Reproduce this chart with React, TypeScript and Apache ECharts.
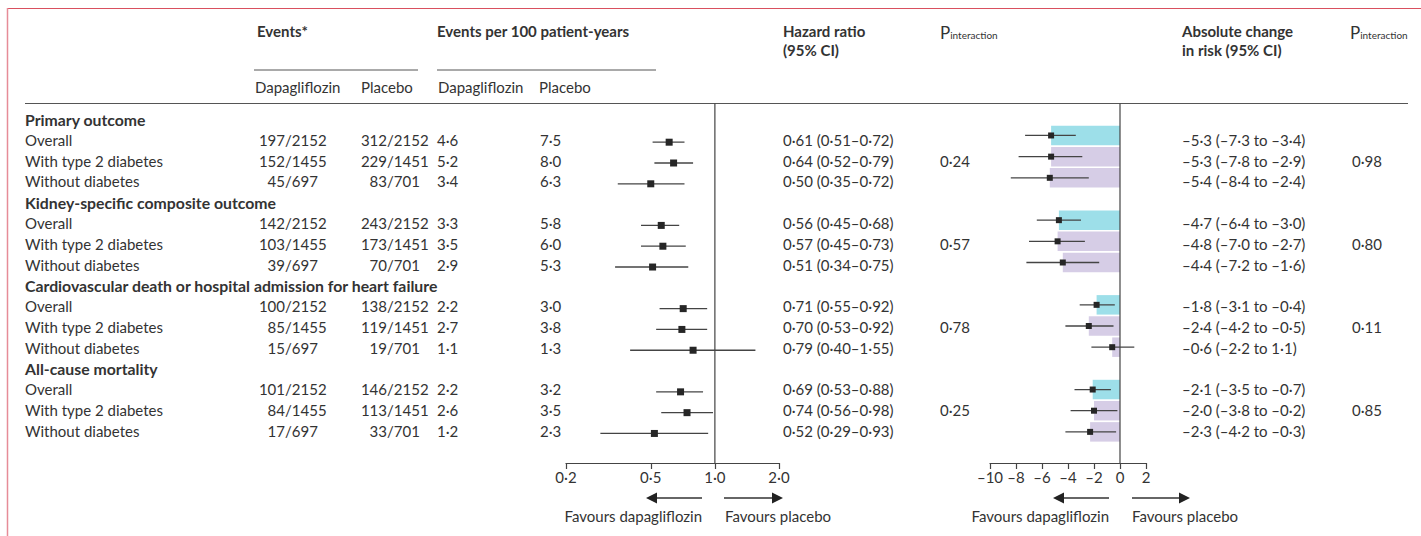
import React, { useEffect, useRef } from "react";
import * as echarts from "echarts";

// ---------- data ----------
const outcomes = [
  "Primary outcome",
  "Kidney-specific composite outcome",
  "Cardiovascular death or hospital admission for heart failure",
  "All-cause mortality",
];
const subgroups = ["Overall", "With type 2 diabetes", "Without diabetes"];
const eventsDapa = ["197/2152", "152/1455", "45/697", "142/2152", "103/1455", "39/697", "100/2152", "85/1455", "15/697", "101/2152", "84/1455", "17/697"];
const eventsPlacebo = ["312/2152", "229/1451", "83/701", "243/2152", "173/1451", "70/701", "138/2152", "119/1451", "19/701", "146/2152", "113/1451", "33/701"];
const ratesDapa = [4.6, 5.2, 3.4, 3.3, 3.5, 2.9, 2.2, 2.7, 1.1, 2.2, 2.6, 1.2];
const ratesPlacebo = [7.5, 8.0, 6.3, 5.8, 6.0, 5.3, 3.0, 3.8, 1.3, 3.2, 3.5, 2.3];
const hr = [0.61, 0.64, 0.5, 0.56, 0.57, 0.51, 0.71, 0.7, 0.79, 0.69, 0.74, 0.52];
const hrLow = [0.51, 0.52, 0.35, 0.45, 0.45, 0.34, 0.55, 0.53, 0.4, 0.53, 0.56, 0.29];
const hrHigh = [0.72, 0.79, 0.72, 0.68, 0.73, 0.75, 0.92, 0.92, 1.55, 0.88, 0.98, 0.93];
const pHr = ["0·24", "0·57", "0·78", "0·25"];
const arr = [-5.3, -5.3, -5.4, -4.7, -4.8, -4.4, -1.8, -2.4, -0.6, -2.1, -2.0, -2.3];
const arrLow = [-7.3, -7.8, -8.4, -6.4, -7.0, -7.2, -3.1, -4.2, -2.2, -3.5, -3.8, -4.2];
const arrHigh = [-3.4, -2.9, -2.4, -3.0, -2.7, -1.6, -0.4, -0.5, 1.1, -0.7, -0.2, -0.3];
const pArr = ["0·98", "0·80", "0·11", "0·85"];
const hrTicks = [0.2, 0.5, 1.0, 2.0];
const arrMin = -10;
const arrMax = 2;
const arrInterval = 2;

// ---------- style ----------
const FONT = "Lato";
const TXT = "#333333";
const FS = 15;
const CYAN = "#9ddfe9";
const LILAC = "#d6cde6";

const dec = (v: number, d: number) => v.toFixed(d).replace(".", "·");
const sgn = (v: number, d: number) => (v < 0 ? "–" : "") + dec(Math.abs(v), d);

const rowOf = (i: number) => Math.floor(i / 3) * 4 + 1 + (i % 3);
const textY = (k: number) => 119 + k * 20.8;

function txt(x: number, y: number, text: string, opts: any = {}) {
  return {
    type: "text",
    x,
    y,
    silent: true,
    style: {
      text,
      fontFamily: FONT,
      fontSize: opts.fontSize || FS,
      fontWeight: opts.bold ? 700 : 400,
      fill: TXT,
      align: opts.align || "left",
      verticalAlign: "middle",
      textAlign: opts.align || "left",
      textVerticalAlign: "middle",
    },
  };
}

function pInteraction(x: number, y: number) {
  return {
    type: "text",
    x,
    y,
    silent: true,
    style: {
      text: "{p|P}{s|interaction}",
      align: "left",
      verticalAlign: "middle",
      rich: {
        p: { fontFamily: FONT, fontSize: 17, fill: TXT, verticalAlign: "bottom" },
        s: { fontFamily: FONT, fontSize: 10, fill: TXT, verticalAlign: "bottom", padding: [0, 0, 1, 0] },
      },
    },
  };
}

function hline(x1: number, x2: number, y: number, color = "#555", w = 1) {
  return { type: "line", silent: true, shape: { x1, y1: y, x2, y2: y }, style: { stroke: color, lineWidth: w } };
}

function arrow(xFrom: number, xTip: number, y: number) {
  const dir = xTip > xFrom ? 1 : -1;
  const headLen = 11;
  return [
    { type: "line", silent: true, shape: { x1: xFrom, y1: y, x2: xTip - dir * headLen, y2: y }, style: { stroke: "#333", lineWidth: 1.3 } },
    {
      type: "polygon",
      silent: true,
      shape: { points: [[xTip, y], [xTip - dir * headLen, y - 5.5], [xTip - dir * headLen, y + 5.5]] },
      style: { fill: "#222" },
    },
  ];
}

function buildOption() {
  const g: any[] = [];
  // frame
  g.push(hline(8, 1421, 8.5, "#d9505f", 1));
  g.push({ type: "line", silent: true, shape: { x1: 7.5, y1: 8, x2: 7.5, y2: 536 }, style: { stroke: "#e68c98", lineWidth: 1.5 } });

  // headers
  g.push(txt(257, 31, "Events*", { bold: true }));
  g.push(txt(437, 31, "Events per 100 patient-years", { bold: true }));
  g.push(txt(783, 31, "Hazard ratio", { bold: true }));
  g.push(txt(783, 50, "(95% CI)", { bold: true }));
  g.push(pInteraction(940, 32));
  g.push(txt(1182, 31, "Absolute change", { bold: true }));
  g.push(txt(1182, 50, "in risk (95% CI)", { bold: true }));
  g.push(pInteraction(1350, 32));
  g.push(hline(254, 418, 70));
  g.push(hline(437, 656, 70));
  g.push(txt(255, 87, "Dapagliflozin"));
  g.push(txt(361, 87, "Placebo"));
  g.push(txt(438, 87, "Dapagliflozin"));
  g.push(txt(539, 87, "Placebo"));
  g.push(hline(25, 1408, 103.5, "#555", 1.2));

  // table body
  outcomes.forEach((o, gi) => {
    g.push(txt(25, textY(gi * 4), o, { bold: true, fontSize: 15.8 }));
    g.push(txt(940, textY(gi * 4 + 2), pHr[gi]));
    g.push(txt(1352, textY(gi * 4 + 2), pArr[gi]));
  });
  for (let i = 0; i < 12; i++) {
    const y = textY(rowOf(i));
    g.push(txt(25, y, subgroups[i % 3]));
    const [dn, dd] = eventsDapa[i].split("/");
    g.push(txt(285, y, dn, { align: "right" }));
    g.push(txt(285, y, "/" + dd));
    const [pn, pd] = eventsPlacebo[i].split("/");
    g.push(txt(387, y, pn, { align: "right" }));
    g.push(txt(387, y, "/" + pd));
    g.push(txt(437, y, dec(ratesDapa[i], 1)));
    g.push(txt(540, y, dec(ratesPlacebo[i], 1)));
    g.push(txt(783, y, `${dec(hr[i], 2)} (${dec(hrLow[i], 2)}–${dec(hrHigh[i], 2)})`));
    g.push(txt(1182, y, `${sgn(arr[i], 1)} (${sgn(arrLow[i], 1)} to ${sgn(arrHigh[i], 1)})`));
  }

  // arrows + favours labels
  g.push(...arrow(702, 646, 498));
  g.push(...arrow(724, 783, 498));
  g.push(txt(702, 516, "Favours dapagliflozin", { align: "right" }));
  g.push(txt(725, 516, "Favours placebo"));
  g.push(...arrow(1109, 1053, 498));
  g.push(...arrow(1132, 1190, 498));
  g.push(txt(1109, 516, "Favours dapagliflozin", { align: "right" }));
  g.push(txt(1132, 516, "Favours placebo"));

  const y1Min = -0.86, y1Max = 16.42;
  const y2Min = -0.51, y2Max = 16.47;

  const hrData = hr.map((v, i) => [Math.log(v), Math.log(hrLow[i]), Math.log(hrHigh[i]), rowOf(i)]);
  const arrData = arr.map((v, i) => [v, arrLow[i], arrHigh[i], rowOf(i), i % 3 === 0 ? 1 : 0]);

  const axisLabel = { color: TXT, fontFamily: FONT, fontSize: FS, margin: 6 };
  const axisLine = { show: true, onZero: false, lineStyle: { color: "#444", width: 1.2 } };
  const axisTick = { show: true, length: 6, lineStyle: { color: "#444", width: 1.2 } };

  return {
    animation: false,
    backgroundColor: "#ffffff",
    grid: [
      { left: 566, top: 103.5, width: 213, height: 359.5, containLabel: false },
      { left: 990, top: 103.5, width: 156, height: 359.5, containLabel: false },
    ],
    xAxis: [
      {
        type: "value",
        gridIndex: 0,
        min: Math.log(hrTicks[0]),
        max: Math.log(hrTicks[hrTicks.length - 1]),
        axisLine,
        axisTick: { ...axisTick, customValues: hrTicks.map((t) => Math.log(t)) },
        axisLabel: {
          ...axisLabel,
          customValues: hrTicks.map((t) => Math.log(t)),
          formatter: (v: number) => dec(Math.exp(v), 1),
        },
        splitLine: { show: false },
      },
      {
        type: "value",
        gridIndex: 1,
        min: arrMin,
        max: arrMax,
        interval: arrInterval,
        axisLine,
        axisTick,
        axisLabel: { ...axisLabel, formatter: (v: number) => sgn(v, 0) },
        splitLine: { show: false },
      },
    ],
    yAxis: [
      { type: "value", gridIndex: 0, min: y1Min, max: y1Max, inverse: true, show: false },
      { type: "value", gridIndex: 1, min: y2Min, max: y2Max, inverse: true, show: false },
    ],
    series: [
      {
        type: "line",
        xAxisIndex: 0,
        yAxisIndex: 0,
        data: [[0, y1Min], [0, y1Max]],
        symbol: "none",
        silent: true,
        z: 3,
        lineStyle: { color: "#444", width: 1.2 },
      },
      {
        type: "custom",
        xAxisIndex: 0,
        yAxisIndex: 0,
        data: hrData,
        encode: { x: [0, 1, 2], y: 3 },
        z: 4,
        renderItem: (_p: any, api: any) => {
          const row = api.value(3);
          const c = api.coord([api.value(0), row]);
          const l = api.coord([api.value(1), row]);
          const h = api.coord([api.value(2), row]);
          const s = 7;
          return {
            type: "group",
            children: [
              { type: "line", shape: { x1: l[0], y1: c[1], x2: h[0], y2: c[1] }, style: { stroke: "#444", lineWidth: 1.3 } },
              { type: "rect", shape: { x: c[0] - s / 2, y: c[1] - s / 2, width: s, height: s }, style: { fill: "#262626" } },
            ],
          };
        },
      },
      {
        type: "custom",
        xAxisIndex: 1,
        yAxisIndex: 1,
        data: arrData,
        encode: { x: [0, 1, 2], y: 3 },
        z: 2,
        renderItem: (_p: any, api: any) => {
          const row = api.value(3);
          const c = api.coord([api.value(0), row]);
          const z0 = api.coord([0, row]);
          const l = api.coord([api.value(1), row]);
          const h = api.coord([api.value(2), row]);
          const bh = api.size([0, 0.92])[1];
          const s = 6;
          return {
            type: "group",
            children: [
              {
                type: "rect",
                shape: { x: c[0], y: c[1] - bh / 2, width: z0[0] - c[0], height: bh },
                style: { fill: api.value(4) === 1 ? CYAN : LILAC },
              },
              { type: "line", shape: { x1: l[0], y1: c[1], x2: h[0], y2: c[1] }, style: { stroke: "#444", lineWidth: 1.3 } },
              { type: "rect", shape: { x: c[0] - s / 2, y: c[1] - s / 2, width: s, height: s }, style: { fill: "#262626" } },
            ],
          };
        },
      },
      {
        type: "line",
        xAxisIndex: 1,
        yAxisIndex: 1,
        data: [[0, y2Min], [0, y2Max]],
        symbol: "none",
        silent: true,
        z: 3,
        lineStyle: { color: "#444", width: 1.2 },
      },
    ],
    graphic: { elements: g },
  };
}

export default function App() {
  const ref = useRef<HTMLDivElement>(null);
  useEffect(() => {
    if (!ref.current) return;
    const chart = echarts.init(ref.current, null, { renderer: "svg" });
    chart.setOption(buildOption() as any);
    return () => chart.dispose();
  }, []);
  return (
    <div
      ref={ref}
      style={{ position: "fixed", left: 0, top: 0, width: 1421, height: 536, background: "#fff" }}
    />
  );
}
